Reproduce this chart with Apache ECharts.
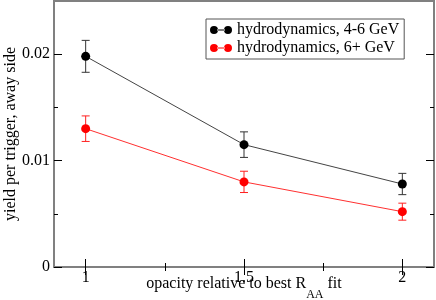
<!DOCTYPE html>
<html>
<head>
<meta charset="utf-8">
<script src="https://cdn.jsdelivr.net/npm/echarts@6/dist/echarts.min.js"></script>
<style>html,body{margin:0;padding:0;background:#fff}#c{width:436px;height:300px}</style>
</head>
<body>
<div id="c"></div>
<script>
const xValues = [1, 1.5, 2];
const hydro46 = [0.0198, 0.0115, 0.0078];
const hydro46Err = [0.0015, 0.0012, 0.0010];
const hydro6 = [0.0130, 0.0080, 0.0052];
const hydro6Err = [0.0012, 0.0010, 0.0008];
const xMajorTicks = [1, 1.5, 2];
const xMinorTicks = [1.25, 1.75];
const yMajorTicks = [0, 0.01, 0.02];
const yMinorTicks = [0.005, 0.015];
const seriesNames = ['hydrodynamics, 4-6 GeV', 'hydrodynamics, 6+ GeV'];

const FONT = 'Liberation Serif';
const FRAME = '#808080';

function pts(ys) { return xValues.map((x, i) => [x, ys[i]]); }
function errs(ys, es) { return xValues.map((x, i) => [x, ys[i] - es[i], ys[i] + es[i]]); }

function errRender(color) {
  return function (params, api) {
    const x = api.value(0);
    const lo = api.coord([x, api.value(1)]);
    const hi = api.coord([x, api.value(2)]);
    const w = 4;
    const st = { stroke: color, lineWidth: 1 };
    return {
      type: 'group',
      children: [
        { type: 'line', shape: { x1: lo[0], y1: lo[1], x2: hi[0], y2: hi[1] }, style: st },
        { type: 'line', shape: { x1: lo[0] - w, y1: lo[1], x2: lo[0] + w, y2: lo[1] }, style: st },
        { type: 'line', shape: { x1: hi[0] - w, y1: hi[1], x2: hi[0] + w, y2: hi[1] }, style: st }
      ]
    };
  };
}

function xAx(pos, ticks, len, opts) {
  return Object.assign({
    type: 'value', position: pos, min: 0.9, max: 2.1,
    axisLine: { show: false },
    axisTick: { show: true, inside: true, length: len, customValues: ticks, lineStyle: { color: '#000', width: 1 } },
    axisLabel: { show: false },
    splitLine: { show: false }
  }, opts || {});
}
function yAx(pos, ticks, len, opts) {
  return Object.assign({
    type: 'value', position: pos, min: 0, max: 0.025,
    axisLine: { show: false },
    axisTick: { show: true, inside: true, length: len, customValues: ticks, lineStyle: { color: '#000', width: 1 } },
    axisLabel: { show: false },
    splitLine: { show: false }
  }, opts || {});
}

const chart = echarts.init(document.getElementById('c'), null, { renderer: 'canvas' });
const iconPath = 'path://M0,4A4,4 0 1,0 8,4A4,4 0 1,0 0,4Z M14,4A4,4 0 1,0 22,4A4,4 0 1,0 14,4Z M7,3.5L15,3.5L15,4.5L7,4.5Z';

chart.setOption({
  animation: false,
  backgroundColor: '#fff',
  textStyle: { fontFamily: FONT },
  grid: { left: 54, right: 2, top: 1, bottom: 33, containLabel: false, outerBoundsMode: 'none', show: true, borderColor: FRAME, borderWidth: 2, backgroundColor: 'transparent' },
  legend: {
    data: seriesNames,
    orient: 'vertical',
    left: 206, top: 19,
    icon: iconPath,
    itemWidth: 22, itemHeight: 8, itemGap: 2, itemTextGap: 5,
    padding: [3, 5, 3, 4],
    borderColor: '#555', borderWidth: 1, backgroundColor: '#fff',
    textStyle: { fontFamily: FONT, fontSize: 16, color: '#000', lineHeight: 16 }
  },
  xAxis: [
    xAx('bottom', xMajorTicks, 8, {
      axisLabel: { show: true, customValues: xMajorTicks, fontFamily: FONT, fontSize: 16, color: '#000', margin: 3, formatter: v => String(v) },
      name: '{m|opacity relative to best R}{s|AA}{m| fit}',
      nameLocation: 'middle', nameGap: 9, nameMoveOverlap: false,
      nameTextStyle: { rich: {
        m: { fontFamily: FONT, fontSize: 16, lineHeight: 20, color: '#000', verticalAlign: 'top' },
        s: { fontFamily: FONT, fontSize: 12, lineHeight: 12, color: '#000', verticalAlign: 'top', padding: [13, 0, 0, 0] }
      } }
    }),
    xAx('bottom', xMinorTicks, 4),
    xAx('top', xMajorTicks, 8),
    xAx('top', xMinorTicks, 4)
  ],
  yAxis: [
    yAx('left', yMajorTicks, 8, {
      axisLabel: { show: true, customValues: yMajorTicks, fontFamily: FONT, fontSize: 16, color: '#000', margin: 4, formatter: v => (v === 0 ? '0' : String(v)) },
      name: 'yield per trigger, away side',
      nameLocation: 'middle', nameGap: 35, nameMoveOverlap: false,
      nameTextStyle: { fontFamily: FONT, fontSize: 16, color: '#000' }
    }),
    yAx('left', yMinorTicks, 4),
    yAx('right', yMajorTicks, 8),
    yAx('right', yMinorTicks, 4)
  ],
  series: [
    { type: 'custom', name: 'err46', renderItem: errRender('#333'), data: errs(hydro46, hydro46Err), encode: { x: 0, y: [1, 2] }, z: 1, silent: true },
    { type: 'custom', name: 'err6', renderItem: errRender('#ff2020'), data: errs(hydro6, hydro6Err), encode: { x: 0, y: [1, 2] }, z: 1, silent: true },
    { type: 'line', name: seriesNames[0], data: pts(hydro46), symbol: 'circle', symbolSize: 9, itemStyle: { color: '#000' }, lineStyle: { color: '#444', width: 1 }, z: 3 },
    { type: 'line', name: seriesNames[1], data: pts(hydro6), symbol: 'circle', symbolSize: 9, itemStyle: { color: '#ff0000' }, lineStyle: { color: '#ff3030', width: 1 }, z: 3 }
  ]
});
</script>
</body>
</html>
